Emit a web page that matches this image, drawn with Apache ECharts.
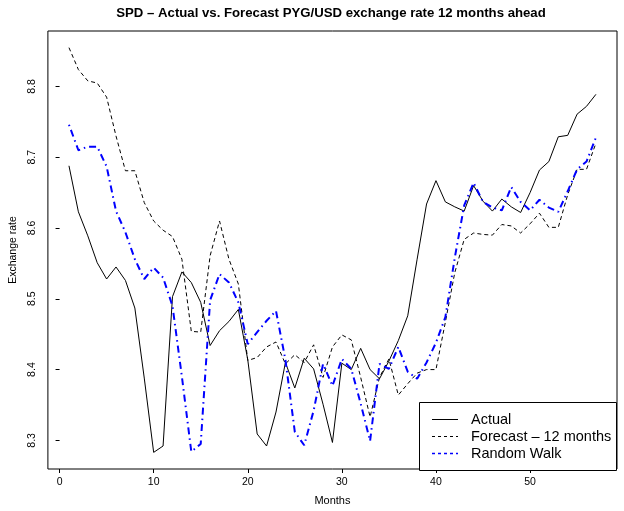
<!DOCTYPE html>
<html>
<head>
<meta charset="utf-8">
<script src="https://cdn.jsdelivr.net/npm/echarts@6/dist/echarts.min.js"></script>
<style>html,body{margin:0;padding:0;background:#fff}#c{width:624px;height:511px}</style>
</head>
<body>
<div id="c"></div>
<script>
const months = [1,2,3,4,5,6,7,8,9,10,11,12,13,14,15,16,17,18,19,20,21,22,23,24,25,26,27,28,29,30,31,32,33,34,35,36,37,38,39,40,41,42,43,44,45,46,47,48,49,50,51,52,53,54,55,56,57];
const actual = [8.688, 8.623, 8.589, 8.551, 8.528, 8.545, 8.526, 8.487, 8.388, 8.283,
                8.292, 8.503, 8.538, 8.523, 8.495, 8.434, 8.455, 8.468, 8.485, 8.414,
                8.309, 8.292, 8.340, 8.410, 8.374, 8.416, 8.401, 8.351, 8.297, 8.409,
                8.400, 8.430, 8.400, 8.387, 8.412, 8.441, 8.476, 8.556, 8.634, 8.667,
                8.637, 8.630, 8.624, 8.660, 8.638, 8.624, 8.641, 8.630, 8.622, 8.650,
                8.682, 8.694, 8.729, 8.731, 8.761, 8.772, 8.789];
const forecast = [8.855, 8.824, 8.808, 8.805, 8.785, 8.730, 8.681, 8.681, 8.636, 8.610,
                  8.597, 8.588, 8.556, 8.454, 8.453, 8.561, 8.610, 8.556, 8.521, 8.413,
                  8.417, 8.432, 8.439, 8.408, 8.421, 8.410, 8.435, 8.389, 8.432, 8.449,
                  8.442, 8.389, 8.333, 8.389, 8.415, 8.364, 8.380, 8.395, 8.400, 8.400,
                  8.467, 8.537, 8.584, 8.593, 8.591, 8.590, 8.605, 8.603, 8.593, 8.606,
                  8.621, 8.601, 8.601, 8.647, 8.683, 8.683, 8.720];
const randomWalk = [8.746, 8.710, 8.715, 8.715, 8.687, 8.624, 8.594, 8.556, 8.528, 8.544,
                    8.530, 8.490, 8.390, 8.284, 8.295, 8.498, 8.535, 8.523, 8.495, 8.436,
                    8.453, 8.469, 8.483, 8.414, 8.312, 8.293, 8.342, 8.408, 8.377, 8.415,
                    8.401, 8.352, 8.299, 8.408, 8.401, 8.432, 8.397, 8.387, 8.410, 8.438,
                    8.474, 8.558, 8.632, 8.664, 8.637, 8.629, 8.625, 8.658, 8.637, 8.625,
                    8.640, 8.629, 8.623, 8.652, 8.683, 8.694, 8.728];
const xTicks = [0, 10, 20, 30, 40, 50];
const yTicks = [8.3, 8.4, 8.5, 8.6, 8.7, 8.8];
const seriesNames = ['Actual', 'Forecast \u2013 12 months', 'Random Walk'];
const titleText = 'SPD \u2013 Actual vs. Forecast PYG/USD exchange rate 12 months ahead';

const FONT = 'Liberation Sans, Arial, Helvetica, sans-serif';
const pairs = arr => arr.map((v, i) => [months[i], v]);

// legend key styles (manual legend box)
const legendKeys = [
  {name: seriesNames[0], color: '#000000', dash: null, width: 1},
  {name: seriesNames[1], color: '#000000', dash: [3, 3], width: 1},
  {name: seriesNames[2], color: '#0000ff', dash: [3, 3], width: 1.6}
];
const legendGraphics = [{
  type: 'rect', z: 100,
  shape: {x: 419.5, y: 402.5, width: 197, height: 68},
  style: {fill: '#ffffff', stroke: '#000000', lineWidth: 1}
}];
legendKeys.forEach((k, i) => {
  const yc = 419.5 + i * 17;
  legendGraphics.push({
    type: 'line', z: 101,
    shape: {x1: 432, y1: yc, x2: 458, y2: yc},
    style: {stroke: k.color, lineWidth: k.width, lineDash: k.dash}
  });
  legendGraphics.push({
    type: 'text', z: 101, x: 471, y: yc,
    style: {text: k.name, font: '14.5px ' + FONT, fill: '#000', align: 'left', verticalAlign: 'middle'}
  });
});

const chart = echarts.init(document.getElementById('c'), null, {renderer: 'canvas'});
chart.setOption({
  animation: false,
  backgroundColor: '#fff',
  textStyle: {fontFamily: FONT, color: '#000'},
  graphic: [{
    type: 'text', x: 331, y: 13,
    style: {text: titleText, font: 'bold 13.2px ' + FONT, fill: '#000', align: 'center', verticalAlign: 'middle'}
  }].concat(legendGraphics),
  grid: {left: 47, right: 7, top: 31, bottom: 41, show: true, borderColor: '#000', borderWidth: 1, backgroundColor: 'transparent'},
  xAxis: {
    type: 'value', min: -1.24, max: 59.24,
    name: 'Months', nameLocation: 'middle', nameGap: 26,
    nameTextStyle: {fontSize: 11, color: '#000', fontFamily: FONT},
    splitLine: {show: false},
    axisLine: {show: false},
    axisTick: {show: true, length: 4, inside: false, customValues: xTicks, lineStyle: {color: '#000'}},
    axisLabel: {show: true, customValues: xTicks, fontSize: 10.5, color: '#000', margin: 8, fontFamily: FONT}
  },
  yAxis: {
    type: 'value', min: 8.2595, max: 8.8785,
    name: 'Exchange rate', nameLocation: 'middle', nameGap: 28, nameRotate: 90,
    nameTextStyle: {fontSize: 10.5, color: '#000', fontFamily: FONT},
    splitLine: {show: false},
    axisLine: {show: false},
    axisTick: {show: true, length: 4, inside: false, customValues: yTicks, lineStyle: {color: '#000'}},
    axisLabel: {show: true, customValues: yTicks, rotate: 90, fontSize: 10.5, color: '#000', margin: 10, fontFamily: FONT,
      formatter: v => v.toFixed(1)}
  },
  series: [
    {name: seriesNames[0], type: 'line', data: pairs(actual), symbol: 'none', z: 3,
      lineStyle: {color: '#000000', width: 1, type: 'solid'}, itemStyle: {color: '#000000'}},
    {name: seriesNames[1], type: 'line', data: pairs(forecast), symbol: 'none', z: 2,
      lineStyle: {color: '#000000', width: 1, type: [4, 3]}, itemStyle: {color: '#000000'}},
    {name: seriesNames[2], type: 'line', data: pairs(randomWalk), symbol: 'none', z: 4,
      lineStyle: {color: '#0000ff', width: 2, type: [1.5, 4, 7, 4]}, itemStyle: {color: '#0000ff'}}
  ]
});
</script>
</body>
</html>
